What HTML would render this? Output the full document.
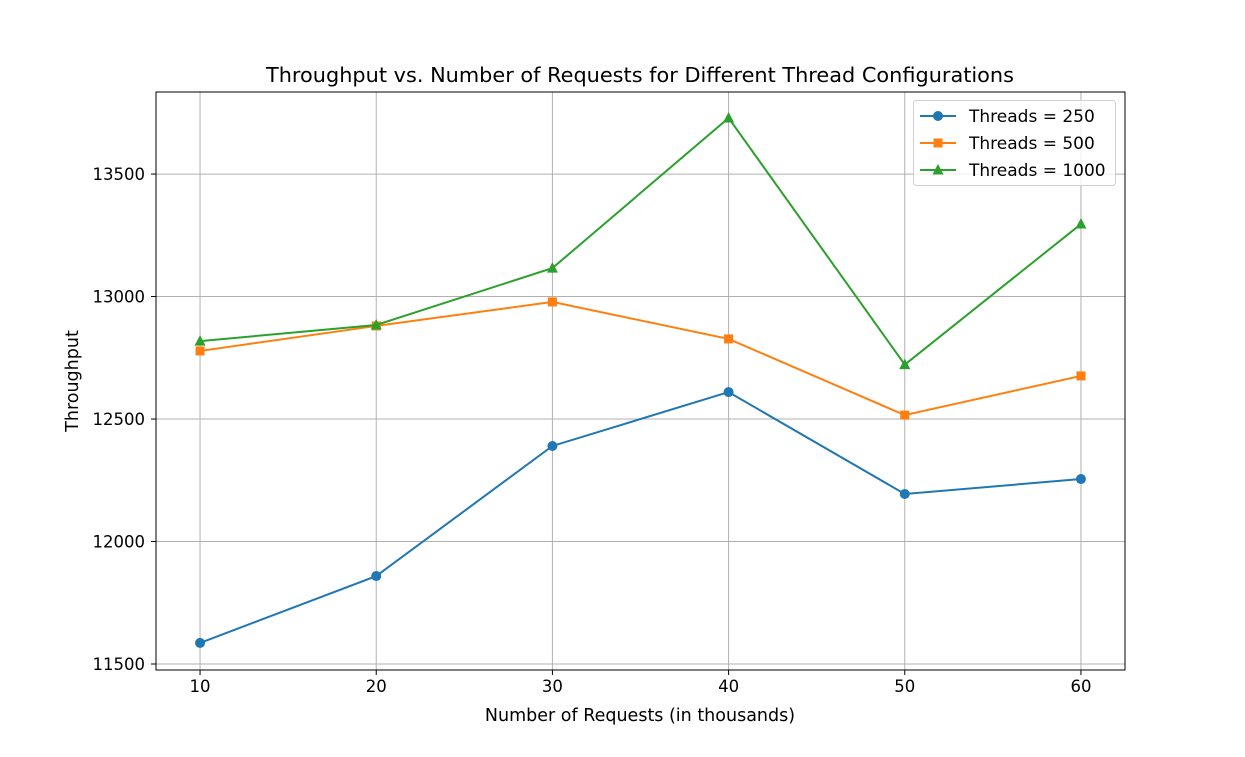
<!DOCTYPE html>
<html><head><meta charset="utf-8"><style>
body{margin:0;background:#fff;}
svg text{font-family:"DejaVu Sans","Liberation Sans",sans-serif;fill:#000;}
</style></head><body>
<svg id="chart" width="1245" height="752"></svg>
<script>
const categories=[10,20,30,40,50,60];
const seriesNames=["Threads = 250","Threads = 500","Threads = 1000"];
const threads250=[11586,11859,12390,12610,12194,12255];
const threads500=[12778,12880,12978,12827,12516,12676];
const threads1000=[12818,12884,13116,13729,12722,13296];
const yTicks=[11500,12000,12500,13000,13500];
const xTicks=[10,20,30,40,50,60];

const NS="http://www.w3.org/2000/svg";
const svg=document.getElementById('chart');
const L=156,R=1125,T=92,B=670;
const xmin=7.5,xmax=62.5,ymin=11475.5,ymax=13835;
const xs=v=>L+(v-xmin)/(xmax-xmin)*(R-L);
const ys=v=>B-(v-ymin)/(ymax-ymin)*(B-T);
function mk(tag,attrs,parent){const e=document.createElementNS(NS,tag);for(const k in attrs)e.setAttribute(k,attrs[k]);(parent||svg).appendChild(e);return e;}

const title=mk('text',{x:640,y:82,'text-anchor':'middle','font-size':20.5,textLength:748,lengthAdjust:'spacingAndGlyphs'});
title.textContent="Throughput vs. Number of Requests for Different Thread Configurations";



xTicks.forEach(v=>{
  const g=mk('line',{x1:xs(v),x2:xs(v),y1:T,y2:B,stroke:'#b0b0b0','stroke-width':1});
  
  
  mk('line',{x1:xs(v),x2:xs(v),y1:B,y2:B+5,stroke:'#000'});
  const t=mk('text',{x:xs(v),y:B+22,'text-anchor':'middle','font-size':16.5});
  t.textContent=v;
  
  
});
yTicks.forEach(v=>{
  const g=mk('line',{x1:L,x2:R,y1:ys(v),y2:ys(v),stroke:'#b0b0b0','stroke-width':1});
  
  
  mk('line',{x1:L-5,x2:L,y1:ys(v),y2:ys(v),stroke:'#000'});
  const t=mk('text',{x:L-11,y:ys(v)+6,'text-anchor':'end','font-size':16.5});
  t.textContent=v;
  
  
});
const frame=mk('rect',{x:L,y:T,width:R-L,height:B-T,fill:'none',stroke:'#000','stroke-width':1});



const xl=mk('text',{x:640,y:721,'text-anchor':'middle','font-size':17.5});
xl.textContent="Number of Requests (in thousands)";


const yl=mk('text',{x:0,y:0,'text-anchor':'middle','font-size':17.5,transform:'translate(78,381) rotate(-90)'});
yl.textContent="Throughput";



const colors=['#1f77b4','#ff7f0e','#2ca02c'];
const shapes=['circle','square','triangle'];
function marker(shape,x,y,c,parent){
  if(shape==='circle')return mk('circle',{cx:x,cy:y,r:5,fill:c},parent);
  if(shape==='square')return mk('rect',{x:x-4.5,y:y-4.5,width:9,height:9,fill:c},parent);
  return mk('polygon',{points:`${x},${y-6} ${x+5.5},${y+4.5} ${x-5.5},${y+4.5}`,fill:c},parent);
}
[threads250,threads500,threads1000].forEach((data,i)=>{
  const g=mk('g',{});
  
  
  const pts=data.map((v,j)=>xs(categories[j])+','+ys(v)).join(' ');
  mk('polyline',{points:pts,fill:'none',stroke:colors[i],'stroke-width':2},g);
  data.forEach((v,j)=>{
    const m=marker(shapes[i],xs(categories[j]),ys(v),colors[i],g);
    
    
  });
});

const lg=mk('g',{});


mk('rect',{x:913.5,y:100.5,width:202,height:85,rx:3,fill:'#fff','fill-opacity':0.8,stroke:'#d0d0d0'},lg);
seriesNames.forEach((n,i)=>{
  const y=116+i*27;
  const e=mk('g',{},lg);
  
  
  mk('line',{x1:920,x2:956,y1:y,y2:y,stroke:colors[i],'stroke-width':2},e);
  marker(shapes[i],938,y,colors[i],e);
  const t=mk('text',{x:969,y:y+6,'font-size':17},e);
  t.textContent=n;
});
</script>
</body></html>
